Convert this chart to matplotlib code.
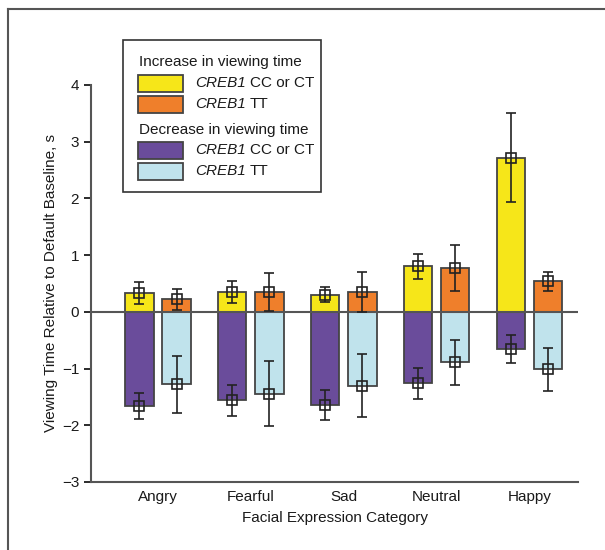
import matplotlib
matplotlib.use('Agg')
import matplotlib.pyplot as plt
from matplotlib.patches import Rectangle
from matplotlib.lines import Line2D
import numpy as np

plt.rcParams['font.family'] = ['Liberation Sans', 'DejaVu Sans']
plt.rcParams['axes.unicode_minus'] = True

categories = ['Angry', 'Fearful', 'Sad', 'Neutral', 'Happy']

# increase in viewing time
inc_cc = [0.33, 0.35, 0.30, 0.80, 2.72]
inc_cc_err = [0.19, 0.19, 0.13, 0.22, 0.78]
inc_tt = [0.22, 0.35, 0.35, 0.77, 0.54]
inc_tt_err = [0.19, 0.33, 0.35, 0.41, 0.17]

# decrease in viewing time
dec_cc = [-1.66, -1.56, -1.64, -1.26, -0.66]
dec_cc_err = [0.23, 0.27, 0.26, 0.27, 0.25]
dec_tt = [-1.28, -1.44, -1.30, -0.89, -1.01]
dec_tt_err = [0.50, 0.58, 0.55, 0.40, 0.38]

yellow = '#f6e619'
orange = '#ef7f2b'
purple = '#6a4c9b'
lblue = '#c0e3ec'
edge = '#444444'
txt = '#1a1a1a'
fs = 11

fig = plt.figure(figsize=(6.05, 5.5), dpi=100)
ax = fig.add_axes([91/605, 1 - 482/550, (578 - 91)/605, (482 - 85)/550])

x = np.arange(len(categories))
off = 0.2
w = 0.305

ax.bar(x - off, inc_cc, w, color=yellow, edgecolor=edge, linewidth=1.3, zorder=2)
ax.bar(x + off, inc_tt, w, color=orange, edgecolor=edge, linewidth=1.3, zorder=2)
ax.bar(x - off, dec_cc, w, color=purple, edgecolor=edge, linewidth=1.3, zorder=2)
ax.bar(x + off, dec_tt, w, color=lblue, edgecolor=edge, linewidth=1.3, zorder=2)

for xs, vals, errs in [(x - off, inc_cc, inc_cc_err), (x + off, inc_tt, inc_tt_err),
                       (x - off, dec_cc, dec_cc_err), (x + off, dec_tt, dec_tt_err)]:
    ax.errorbar(xs, vals, yerr=errs, fmt='s', mfc='none', mec='#222222', ms=7, mew=1.2,
                ecolor='#222222', elinewidth=1.2, capsize=3.5, capthick=1.2, zorder=4)

ax.axhline(0, color='#555555', linewidth=1.5, zorder=3)

ax.set_xlim(-0.72, 4.52)
ax.set_ylim(-3, 4)
ax.set_yticks(range(-3, 5))
ax.set_xticks(x)
ax.set_xticklabels(categories)
ax.tick_params(axis='x', length=0, labelsize=fs, pad=6, colors=txt)
ax.tick_params(axis='y', length=5, width=1.3, direction='out', labelsize=fs, colors=txt)
for s in ['top', 'right']:
    ax.spines[s].set_visible(False)
for s in ['left', 'bottom']:
    ax.spines[s].set_color('#555555')
    ax.spines[s].set_linewidth(1.5)
ax.set_xlabel('Facial Expression Category', fontsize=fs, color=txt, labelpad=5)
ax.set_ylabel('Viewing Time Relative to Default Baseline, s', fontsize=fs, color=txt, labelpad=3)

# legend drawn by hand in figure pixels
def fx(px):
    return px / 605

def fy(py):
    return 1 - py / 550

fig.patches.append(Rectangle((fx(123), fy(192)), fx(321) - fx(123), fy(40) - fy(192),
                             transform=fig.transFigure, fill=True, facecolor='white',
                             edgecolor='#333333', linewidth=1.2, zorder=5))
rows = [('title', 'Increase in viewing time', None, 62),
        ('item', 'CC or CT', yellow, 83),
        ('item', 'TT', orange, 104),
        ('title', 'Decrease in viewing time', None, 130),
        ('item', 'CC or CT', purple, 150),
        ('item', 'TT', lblue, 171)]
renderer = fig.canvas.get_renderer()
for kind, label, col, py in rows:
    if kind == 'title':
        fig.text(fx(139), fy(py), label, fontsize=fs, va='center', ha='left', color=txt, zorder=6)
    else:
        fig.patches.append(Rectangle((fx(138), fy(py + 8.5)), fx(183) - fx(138), 17/550,
                                     transform=fig.transFigure, facecolor=col,
                                     edgecolor=edge, linewidth=1.3, zorder=6))
        t = fig.text(fx(195), fy(py), 'CREB1', fontsize=fs, style='italic',
                     va='center', ha='left', color=txt, zorder=6)
        bb = t.get_window_extent(renderer)
        fig.text(fx(bb.x1 + 4), fy(py), label, fontsize=fs, va='center', ha='left', color=txt, zorder=6)

# outer frame
fig.add_artist(Line2D([fx(8), fx(8)], [0, fy(9)], transform=fig.transFigure, color='#555555', linewidth=1.5))
fig.add_artist(Line2D([fx(8), 1], [fy(9), fy(9)], transform=fig.transFigure, color='#555555', linewidth=1.5))

plt.savefig('out.png', dpi=100)
